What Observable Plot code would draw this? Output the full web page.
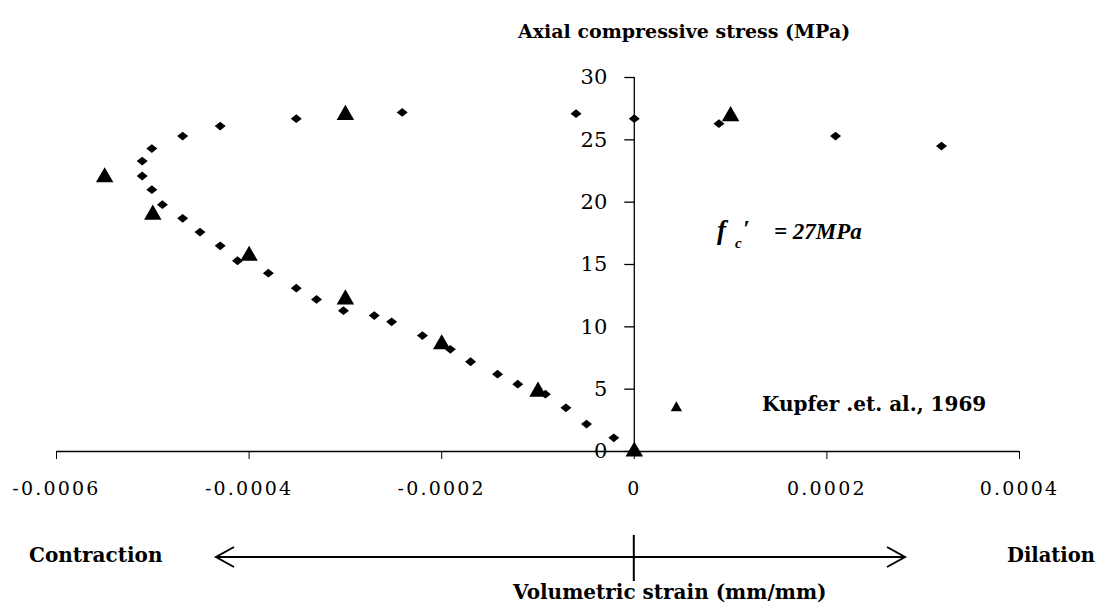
<!DOCTYPE html>
<html><head><meta charset="utf-8">
<script src="https://cdn.jsdelivr.net/npm/d3@7"></script>
<script src="https://cdn.jsdelivr.net/npm/@observablehq/plot@0.6"></script>
<style>
body{margin:0;background:#fff}
#chart svg{display:block;background:#fff}
.xlab text{letter-spacing:2.2px}
</style>
</head><body><div id="chart"></div>
<script>
// Kupfer et al. (1969) — volumetric strain vs axial compressive stress
const diamondStrain = [-0.0000213,-0.0000496,-0.000071,-0.0000923,-0.000121,-0.000142,-0.00017,-0.000191,-0.00022,-0.000252,-0.00027,-0.000302,-0.00033,-0.000351,-0.00038,-0.000412,-0.00043,-0.000451,-0.000469,-0.00049,-0.000501,-0.000511,-0.000511,-0.000501,-0.000469,-0.00043,-0.000351,-0.000241,-0.0000605,0,0.0000879,0.000209,0.000319];
const diamondStress = [1.1,2.2,3.5,4.6,5.4,6.2,7.2,8.2,9.3,10.4,10.9,11.3,12.2,13.1,14.3,15.3,16.5,17.6,18.7,19.8,21.0,22.1,23.3,24.3,25.3,26.1,26.7,27.2,27.1,26.7,26.3,25.3,24.5];
const triangleStrain = [0,-0.0001,-0.0002,-0.0003,-0.0004,-0.0005,-0.00055,-0.0003,0.0001];
const triangleStress = [0,4.8,8.6,12.2,15.7,19,22,27,26.9];
const smallTriangleStrain = [0.0000437];
const smallTriangleStress = [3.5];
const xTicks = [-0.0006,-0.0004,-0.0002,0,0.0002,0.0004];
const xTickLabels = ["-0.0006","-0.0004","-0.0002","0","0.0002","0.0004"];
const yTicks = [0,5,10,15,20,25,30];
const yTickLabels = ["0","5","10","15","20","25","30"];

const diamonds = diamondStrain.map((x,i)=>({x, y: diamondStress[i]}));
const triangles = triangleStrain.map((x,i)=>({x, y: triangleStress[i]}));
const smallTriangles = smallTriangleStrain.map((x,i)=>({x, y: smallTriangleStress[i]}));

const flatDiamond = {draw(ctx, size){const w=Math.sqrt(size)*0.62, h=w*0.8; ctx.moveTo(-w,0); ctx.lineTo(0,-h); ctx.lineTo(w,0); ctx.lineTo(0,h); ctx.closePath();}};
const leftTick = {draw(ctx){ctx.moveTo(-10,0); ctx.lineTo(0,0);}};

const serif = "'DejaVu Serif', serif";
const chart = Plot.plot({
  width: 1104, height: 607,
  marginLeft: 56, marginRight: 85, marginTop: 77, marginBottom: 156,
  x: {domain: [-0.0006, 0.0004]},
  y: {domain: [0, 30], axis: null},
  style: {fontFamily: serif, background: "#fff", color: "#000"},
  marks: [
    Plot.ruleY([0], {stroke: "#000", strokeWidth: 1.3}),
    Plot.ruleX([0], {y1: 0, y2: 30, stroke: "#000", strokeWidth: 1.3}),
    Plot.axisX(xTicks, {tickSize: 8, tickPadding: 22, fontSize: 19, fontFamily: serif, tickFormat: d => xTickLabels[xTicks.indexOf(d)], label: null, className: "xlab", stroke: "#000"}),
    Plot.dot(yTicks, {x: 0, y: d => d, symbol: leftTick, stroke: "#000", strokeWidth: 1.3, fill: "none", r: 5}),
    Plot.text(yTicks, {x: 0, y: d => d, text: (d,i) => yTickLabels[i], dx: -27, textAnchor: "end", fontSize: 21, fontFamily: serif}),
    Plot.dot(diamonds, {x: "x", y: "y", symbol: flatDiamond, r: 5, fill: "#000", stroke: "none"}),
    Plot.dot(triangles, {x: "x", y: "y", symbol: "triangle", r: 6.5, fill: "#000", stroke: "none"}),
    Plot.dot(smallTriangles, {x: "x", y: "y", symbol: "triangle", r: 4.2, fill: "#000", stroke: "none"})
  ]
});
document.getElementById("chart").appendChild(chart);

const svg = d3.select(chart);
const x0 = chart.scale("x").apply(0);
function addText(t, x, y, anchor, size){
  return svg.append("text").attr("x", x).attr("y", y).attr("text-anchor", anchor)
    .attr("dominant-baseline", "middle").attr("font-size", size)
    .attr("font-family", serif).attr("font-weight", "bold").attr("fill", "#000").text(t);
}
addText("Axial compressive stress (MPa)", 518, 33, "start", 19);
addText("Kupfer .et. al., 1969", 762, 405, "start", 20);
addText("Contraction", 29, 556, "start", 20);
addText("Dilation", 1007, 556, "start", 19.5);
addText("Volumetric strain (mm/mm)", 513, 593, "start", 20);
// f'c annotation
const tnr = "'Liberation Serif', 'Times New Roman', serif";
function addItalic(t, x, y, size){
  return svg.append("text").attr("x", x).attr("y", y).attr("text-anchor", "start")
    .attr("font-family", tnr).attr("font-style", "italic").attr("font-weight", "bold")
    .attr("font-size", size).attr("fill", "#000").text(t);
}
addItalic("f", 717, 239, 27);
addItalic("c", 735, 248, 15);
addItalic("\u2032", 743, 236, 24);
addItalic("= 27MPa", 774, 239, 23);
// direction arrow
const g = svg.append("g").attr("stroke", "#000").attr("stroke-width", 2).attr("fill", "none");
g.append("line").attr("x1", 216).attr("x2", 905).attr("y1", 557).attr("y2", 557);
g.append("path").attr("d", "M234,547L216,557L234,567");
g.append("path").attr("d", "M887,547L905,557L887,567");
g.append("line").attr("x1", x0).attr("x2", x0).attr("y1", 535).attr("y2", 581);
</script>
</body></html>
